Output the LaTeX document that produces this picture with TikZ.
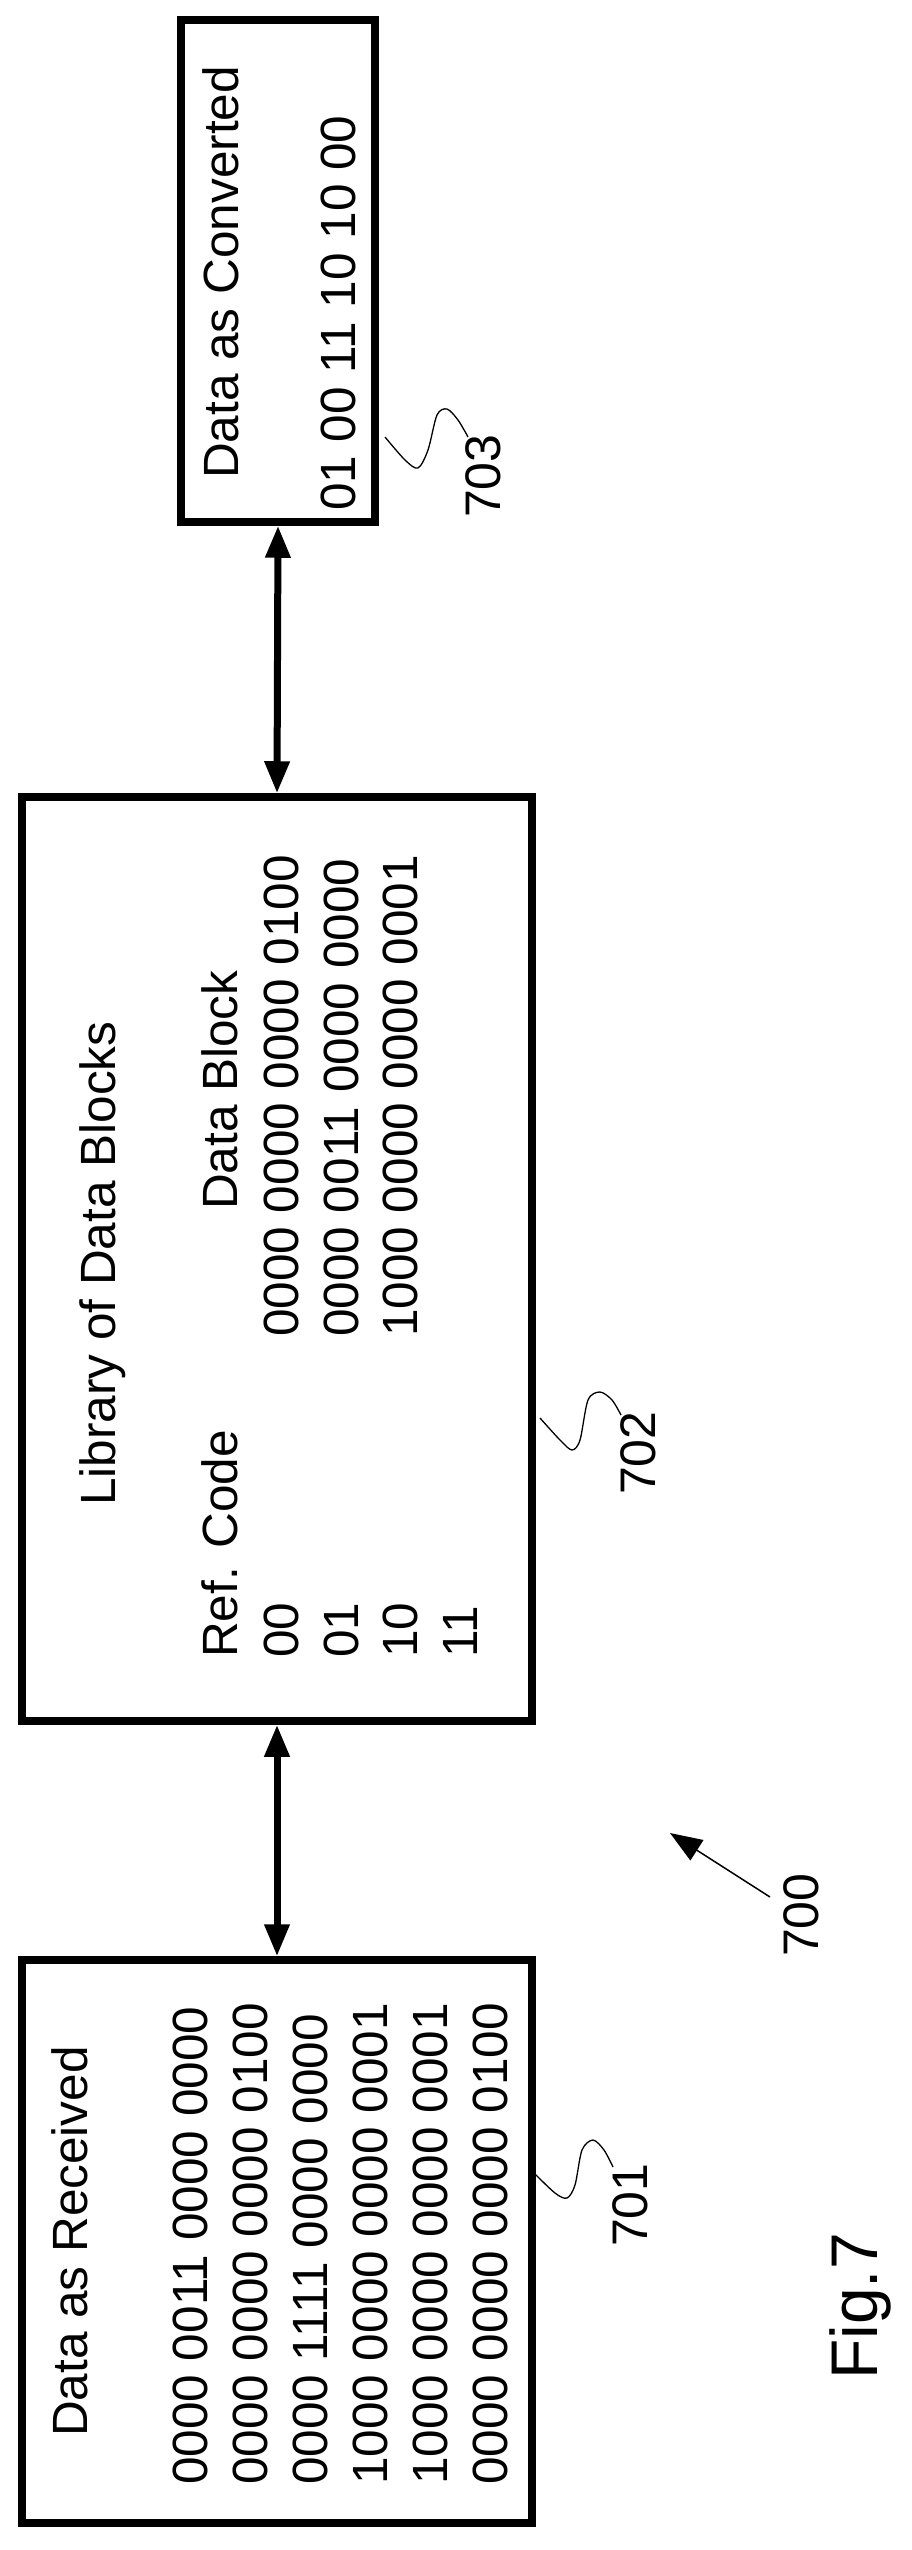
\documentclass[tikz,border=0pt]{standalone}
\usepackage{fontspec}
\setmainfont{Liberation Sans}
\usetikzlibrary{arrows.meta}
\tikzset{
  box/.style={draw,line width=7.5pt,minimum width=#1,inner sep=0pt},
  txt/.style={rotate=90,anchor=base west,inner sep=0pt,font=\fontsize{49.5}{60}\selectfont},
  lbl/.style={rotate=90,anchor=base west,inner sep=0pt,font=\fontsize{50}{60}\selectfont},
  dbl/.style={line width=7pt,{Triangle[length=32pt,width=24pt]}-{Triangle[length=32pt,width=24pt]}},
  squig/.style={line width=1.3pt},
}
\begin{document}
\begin{tikzpicture}[x=1pt,y=-1pt]
\useasboundingbox (0,0) rectangle (912,2550);
% boxes
\node[box=194pt,minimum height=502pt] (b703) at (278,271) {};
\node[box=510pt,minimum height=924pt] (b702) at (277,1259) {};
\node[box=510pt,minimum height=563pt] (b701) at (277,2241.5) {};
% connectors
\draw[dbl] (b703.south) -- (b702.north);
\draw[dbl] (b702.south) -- (b701.north);
% box 703 text
\node[txt] (t703a) at (238,479) {Data as Converted};
\node[txt] (t703b) at (355,511) {01 00 11 10 10 00};
% box 702 text
\node[txt] (t702a) at (115,1506) {Library of Data Blocks};
\node[txt] (t702b) at (237,1658) {Ref. Code};
\node[txt] (t702c) at (237,1210) {Data Block};
\node[txt] (r1a) at (298,1658) {00};
\node[txt] (r2a) at (358,1658) {01};
\node[txt] (r3a) at (417,1658) {10};
\node[txt] (r4a) at (477,1658) {11};
\node[txt] (r1b) at (298,1337) {0000 0000 0000 0100};
\node[txt] (r2b) at (358,1337) {0000 0011 0000 0000};
\node[txt] (r3b) at (417,1337) {1000 0000 0000 0001};
% box 701 text
\node[txt] (t701a) at (87,2437) {Data as Received};
\node[txt] (d1) at (207,2485) {0000 0011 0000 0000};
\node[txt] (d2) at (267,2485) {0000 0000 0000 0100};
\node[txt] (d3) at (327,2485) {0000 1111 0000 0000};
\node[txt] (d4) at (387,2485) {1000 0000 0000 0001};
\node[txt] (d5) at (447,2485) {1000 0000 0000 0001};
\node[txt] (d6) at (507,2485) {0000 0000 0000 0100};
% reference labels
\draw[squig] plot[smooth] coordinates {(385,437)(405,460)(418,468)(428,450)(437,415)(447,409)(458,420)(468,437)};
\node[lbl] (l703) at (500,518) {703};
\draw[squig] plot[smooth] coordinates {(540,1418)(560,1440)(572,1450)(580,1440)(588,1400)(600,1392)(612,1400)(621,1415)};
\node[lbl] (l702) at (655,1495) {702};
\draw[squig] plot[smooth] coordinates {(533,2172)(555,2193)(567,2198)(575,2185)(582,2150)(593,2140)(604,2150)(613,2167)};
\node[lbl] (l701) at (647,2247) {701};
\node[lbl] (l700) at (818,1957) {700};
\coordinate (a700tail) at (770,1897);
\coordinate (a700tip) at (670,1833);
\draw[line width=1.5pt,-{Triangle[length=32pt,width=24pt]}] (a700tail) -- (a700tip);
\node[rotate=90,anchor=base west,inner sep=0pt,font=\fontsize{66}{70}\selectfont] (fig) at (877,2380) {Fig.7};
\end{tikzpicture}
\end{document}
